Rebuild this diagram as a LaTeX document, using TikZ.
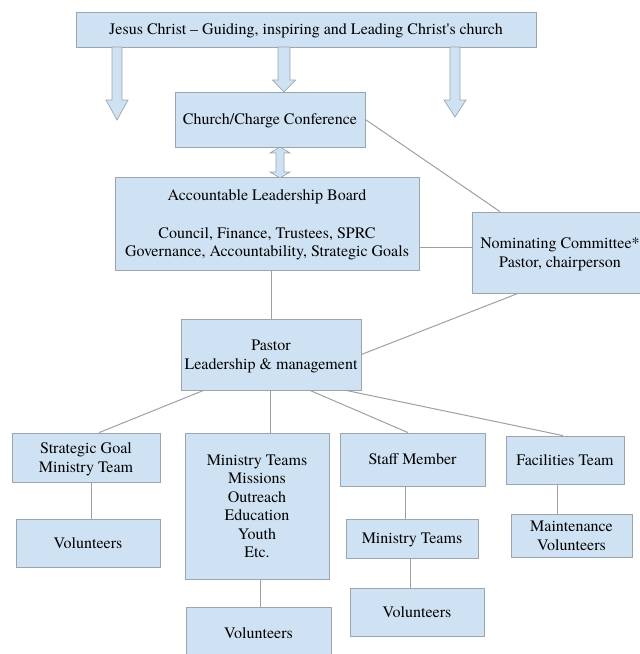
\documentclass[tikz,border=0pt]{standalone}
\usepackage{fontspec}
\setmainfont{texgyretermes-regular.otf}
\usetikzlibrary{positioning}

\definecolor{boxfill}{RGB}{207,226,243}
\definecolor{boxline}{RGB}{155,165,175}
\definecolor{linkgray}{RGB}{160,160,160}

% fixed line ascent/descent, so that every line sits like the others
\newcommand{\gs}{\rule[-3.5pt]{0pt}{17.8pt}}

\begin{document}
\begin{tikzpicture}[x=1pt, y=-1pt,
    box/.style={draw=boxline, fill=boxfill, line width=0.8pt, align=center, inner sep=0pt,
        font=\fontsize{16}{18.5}\selectfont, execute at begin node={\gs}},
    link/.style={draw=linkgray, line width=1pt},
    blockarr/.style={draw=boxline, fill=boxfill, line width=0.7pt, line join=miter}]

    \useasboundingbox (0,0) rectangle (640,654);

    \node[box, minimum width=460pt, minimum height=35pt] (jesus) at (306, 29.5)
        {Jesus Christ -- Guiding, inspiring and Leading Christ\textquotesingle s church};
    \node[box, minimum width=190pt, minimum height=55pt] (church) at (270, 119.5)
        {Church/Charge Conference};
    \node[box, minimum width=304pt, minimum height=93pt] (alb) at (267, 223.5)
        {\gs Accountable Leadership Board\\[19pt]Council, Finance, Trustees, SPRC\\Governance, Accountability, Strategic Goals};
    \node[box, minimum width=176pt, minimum height=81pt] (nom) at (560, 252.5)
        {\gs Nominating Committee*\\Pastor, chairperson};
    \node[box, minimum width=180pt, minimum height=71pt] (pastor) at (271, 354.5)
        {\gs Pastor\\Leadership \& management};

    \node[box, minimum width=148pt, minimum height=49pt] (strat) at (86, 457.5)
        {\gs Strategic Goal\\Ministry Team};
    \node[box, minimum width=144pt, minimum height=48pt] (vol1) at (88, 543)
        {Volunteers};
    \node[box, minimum width=144pt, minimum height=146pt] (minbig) at (257, 506)
        {\gs Ministry Teams\\Missions\\Outreach\\Education\\Youth\\Etc.};
    \node[box, minimum width=145pt, minimum height=52pt] (vol2) at (258.5, 633)
        {Volunteers};
    \node[box, minimum width=145pt, minimum height=53pt] (staff) at (412.5, 459.5)
        {Staff Member};
    \node[box, minimum width=132pt, minimum height=39pt] (mint) at (412, 538.5)
        {Ministry Teams};
    \node[box, minimum width=134pt, minimum height=48pt] (vol3) at (417, 612)
        {Volunteers};
    \node[box, minimum width=118pt, minimum height=48pt] (fac) at (565, 460)
        {Facilities Team};
    \node[box, minimum width=121pt, minimum height=43pt] (maint) at (571.5, 535.5)
        {\gs Maintenance\\Volunteers};

    % block arrows down from the top box
    \draw[blockarr] (112,47) -- (122,47) -- (122,100) -- (128,100) -- (117,120) -- (106,100) -- (112,100) -- cycle;
    \draw[blockarr] (278,47) -- (290,47) -- (290,80) -- (295.5,80) -- (284,92) -- (272.5,80) -- (278,80) -- cycle;
    \draw[blockarr] (450,47) -- (460,47) -- (460,100) -- (466,100) -- (455,117) -- (444,100) -- (450,100) -- cycle;

    % double arrow between conference and board
    \draw[blockarr] (280,147) -- (290,153) -- (284,153) -- (284,172) -- (290,172) -- (280,178)
        -- (270,172) -- (276,172) -- (276,153) -- (270,153) -- cycle;

    \draw[link] (church.east) -- ([xshift=-60pt]nom.north);
    \draw[link] ([yshift=-23.5pt]alb.east) -- ([yshift=-23.5pt]alb.east -| nom.west);
    \draw[link] ([xshift=4pt]alb.south) -- (pastor.north);
    \draw[link] ([xshift=-42pt]nom.south) -- (pastor.east);

    \draw[link] ([xshift=23pt]pastor.south west) -- ([xshift=13pt]strat.north);
    \draw[link] ([xshift=-1pt]pastor.south) -- ([xshift=13pt]minbig.north);
    \draw[link] ([xshift=39pt]pastor.south) -- ([xshift=-4.5pt]staff.north);
    \draw[link] ([xshift=75pt]pastor.south) -- ([xshift=-2pt]fac.north);

    \draw[link] ([xshift=5pt]strat.south) -- ([xshift=3pt]vol1.north);
    \draw[link] ([xshift=3pt]minbig.south) -- ([xshift=1.5pt]vol2.north);
    \draw[link] ([xshift=-7.5pt]staff.south) -- ([xshift=-7pt]mint.north);
    \draw[link] ([xshift=-2pt]mint.south) -- ([xshift=-7pt]vol3.north);
    \draw[link] ([xshift=-8pt]fac.south) -- ([xshift=-14.5pt]maint.north);

\end{tikzpicture}
\end{document}
